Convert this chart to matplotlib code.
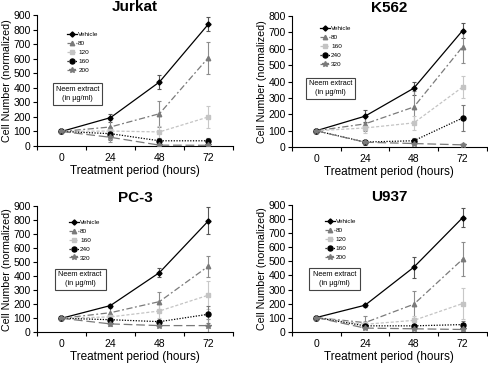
import matplotlib
matplotlib.use("Agg")
import matplotlib.pyplot as plt
from matplotlib.ticker import FixedLocator

plt.rcParams['font.family'] = ['Liberation Sans', 'DejaVu Sans']

hours = [0, 24, 48, 72]

# Jurkat
jurkat_labels = ['Vehicle', '80', '120', '160', '200']
jurkat_vals = [
    [100, 195, 440, 838],
    [100, 131, 222, 608],
    [100, 103, 97, 200],
    [100, 85, 36, 36],
    [100, 60, 6, 5],
]
jurkat_err = [
    [0, 28, 45, 46],
    [0, 50, 90, 110],
    [0, 20, 40, 77],
    [0, 45, 20, 22],
    [0, 35, 8, 6],
]

# K562
k562_labels = ['Vehicle', '80', '160', '240', '320']
k562_vals = [
    [100, 189, 360, 712],
    [100, 142, 245, 613],
    [100, 117, 148, 367],
    [100, 31, 39, 178],
    [100, 30, 22, 14],
]
k562_err = [
    [0, 35, 40, 45],
    [0, 45, 100, 100],
    [0, 30, 45, 70],
    [0, 15, 15, 80],
    [0, 10, 8, 10],
]

# PC-3
pc3_labels = ['Vehicle', '80', '160', '240', '320']
pc3_vals = [
    [100, 191, 426, 795],
    [100, 140, 219, 472],
    [100, 110, 152, 265],
    [100, 90, 76, 129],
    [100, 60, 48, 48],
]
pc3_err = [
    [0, 12, 30, 95],
    [0, 30, 65, 75],
    [0, 20, 50, 100],
    [0, 20, 15, 60],
    [0, 15, 10, 45],
]

# U937
u937_labels = ['Vehicle', '80', '120', '160', '200']
u937_vals = [
    [100, 188, 459, 812],
    [100, 64, 195, 516],
    [100, 52, 80, 200],
    [100, 41, 41, 50],
    [100, 25, 20, 15],
]
u937_err = [
    [0, 10, 75, 68],
    [0, 45, 95, 120],
    [0, 20, 30, 110],
    [0, 20, 15, 25],
    [0, 10, 8, 8],
]

styles = [
    dict(color='black', dashes=(), marker='D', ms=2.6),
    dict(color='#7a7a7a', dashes=(5, 2, 1.5, 2), marker='^', ms=3.2),
    dict(color='#c4c4c4', dashes=(2.5, 1.5), marker='s', ms=2.8),
    dict(color='black', dashes=(1, 1.2), marker='o', ms=3.6),
    dict(color='#7a7a7a', dashes=(7, 3), marker='*', ms=4.0),
]
err_colors = ['#555555', '#8c8c8c', '#c8c8c8', '#777777', '#999999']

panels = [
    ('Jurkat', jurkat_labels, jurkat_vals, jurkat_err, 900,
     [0.0758, 0.601, 0.4016, 0.358], (0.155, 0.875), (0.082, 0.313, 0.248, 0.167)),
    ('K562', k562_labels, k562_vals, k562_err, 800,
     [0.598, 0.598, 0.400, 0.358], (0.145, 0.925), (0.072, 0.365, 0.250, 0.165)),
    ('PC-3', pc3_labels, pc3_vals, pc3_err, 900,
     [0.0758, 0.092, 0.4016, 0.345], (0.165, 0.895), (0.09, 0.335, 0.26, 0.17)),
    ('U937', u937_labels, u937_vals, u937_err, 900,
     [0.598, 0.094, 0.400, 0.345], (0.17, 0.895), (0.09, 0.33, 0.26, 0.17)),
]

fig = plt.figure(figsize=(4.88, 3.66), dpi=100)

for title, labels, vals, errs, ymax, rect, leg_pos, box in panels:
    ax = fig.add_axes(rect)
    for i in range(5):
        st = styles[i]
        ax.errorbar(hours, vals[i], yerr=errs[i], fmt='none', ecolor=err_colors[i],
                    elinewidth=0.8, capsize=1.5, capthick=0.8, zorder=2)
        ax.plot(hours, vals[i], color=st['color'], dashes=st['dashes'], lw=0.9,
                marker=st['marker'], ms=st['ms'], mfc=st['color'], mec=st['color'],
                label=labels[i], zorder=3)
    ax.set_xlim(-12, 84)
    ax.set_ylim(0, ymax)
    ax.set_xticks(hours)
    ax.set_xticklabels([str(h) for h in hours])
    ax.xaxis.set_minor_locator(FixedLocator([-12, 12, 36, 60, 84]))
    ax.tick_params(axis='x', which='major', length=0, pad=5, labelsize=7.5)
    ax.tick_params(axis='x', which='minor', length=3, width=0.8, direction='out')
    ax.set_yticks(range(0, ymax + 1, 100))
    ax.tick_params(axis='y', length=3, width=0.8, pad=1.5, labelsize=7.5)
    for s in ['top', 'right']:
        ax.spines[s].set_visible(False)
    for s in ['left', 'bottom']:
        ax.spines[s].set_linewidth(0.8)
    ax.set_title(title, fontsize=11, fontweight='bold', pad=3)
    ax.set_xlabel('Treatment period (hours)', fontsize=8.5, labelpad=1.5)
    ax.set_ylabel('Cell Number (normalized)', fontsize=7.7, labelpad=1)
    ax.legend(loc='upper left', bbox_to_anchor=leg_pos, frameon=False, fontsize=4.6,
              handlelength=1.5, handletextpad=0.2, labelspacing=0.55,
              borderpad=0, borderaxespad=0)
    bx, by, bw, bh = box
    ax.add_patch(plt.Rectangle((bx, by), bw, bh, transform=ax.transAxes, fill=False,
                               ec='#444444', lw=0.8, zorder=4))
    ax.text(bx + bw / 2, by + bh / 2, 'Neem extract\n(in \u00b5g/ml)', transform=ax.transAxes,
            ha='center', va='center', fontsize=5.3, linespacing=1.4, zorder=5)

fig.savefig('out.png', dpi=100)
